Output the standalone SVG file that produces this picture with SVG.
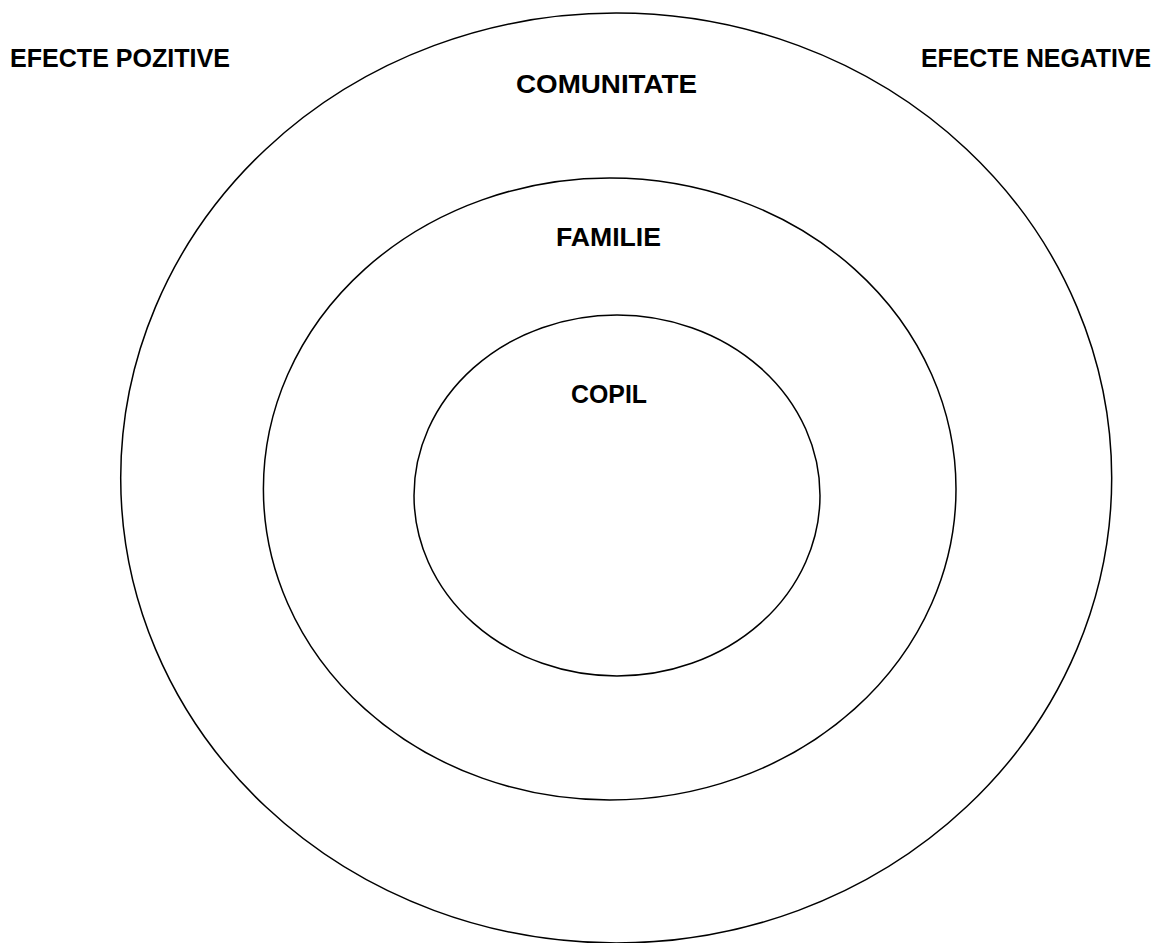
<svg xmlns="http://www.w3.org/2000/svg" width="1159" height="943" viewBox="0 0 1159 943">
<style>
.ring{fill:none;stroke:#000;stroke-width:1.5}
.lbl{font-family:"Liberation Sans",Arial,sans-serif;font-weight:bold;font-size:26.5px;fill:#000}
.lbl-r{font-size:25.5px}
</style>
<rect width="1159" height="943" fill="#fff"/>
<g id="comunitate">
<ellipse class="ring" cx="616.2" cy="478" rx="495.5" ry="465"/>
<text class="lbl" x="516" y="93" textLength="181" lengthAdjust="spacingAndGlyphs">COMUNITATE</text>
</g>
<g id="familie">
<ellipse class="ring" cx="609.7" cy="489" rx="346.3" ry="311"/>
<text class="lbl" x="556" y="246" textLength="105" lengthAdjust="spacingAndGlyphs">FAMILIE</text>
</g>
<g id="copil">
<ellipse class="ring" cx="617" cy="495.5" rx="203" ry="180.5"/>
<text class="lbl" x="571" y="403" textLength="76" lengthAdjust="spacingAndGlyphs">COPIL</text>
</g>
<g id="efecte-pozitive">
<text class="lbl" x="10" y="67" textLength="220" lengthAdjust="spacingAndGlyphs">EFECTE POZITIVE</text>
</g>
<g id="efecte-negative">
<text class="lbl lbl-r" x="1151" y="67" text-anchor="end" textLength="230" lengthAdjust="spacingAndGlyphs">EFECTE NEGATIVE</text>
</g>
<g id="connectors"/>
</svg>
